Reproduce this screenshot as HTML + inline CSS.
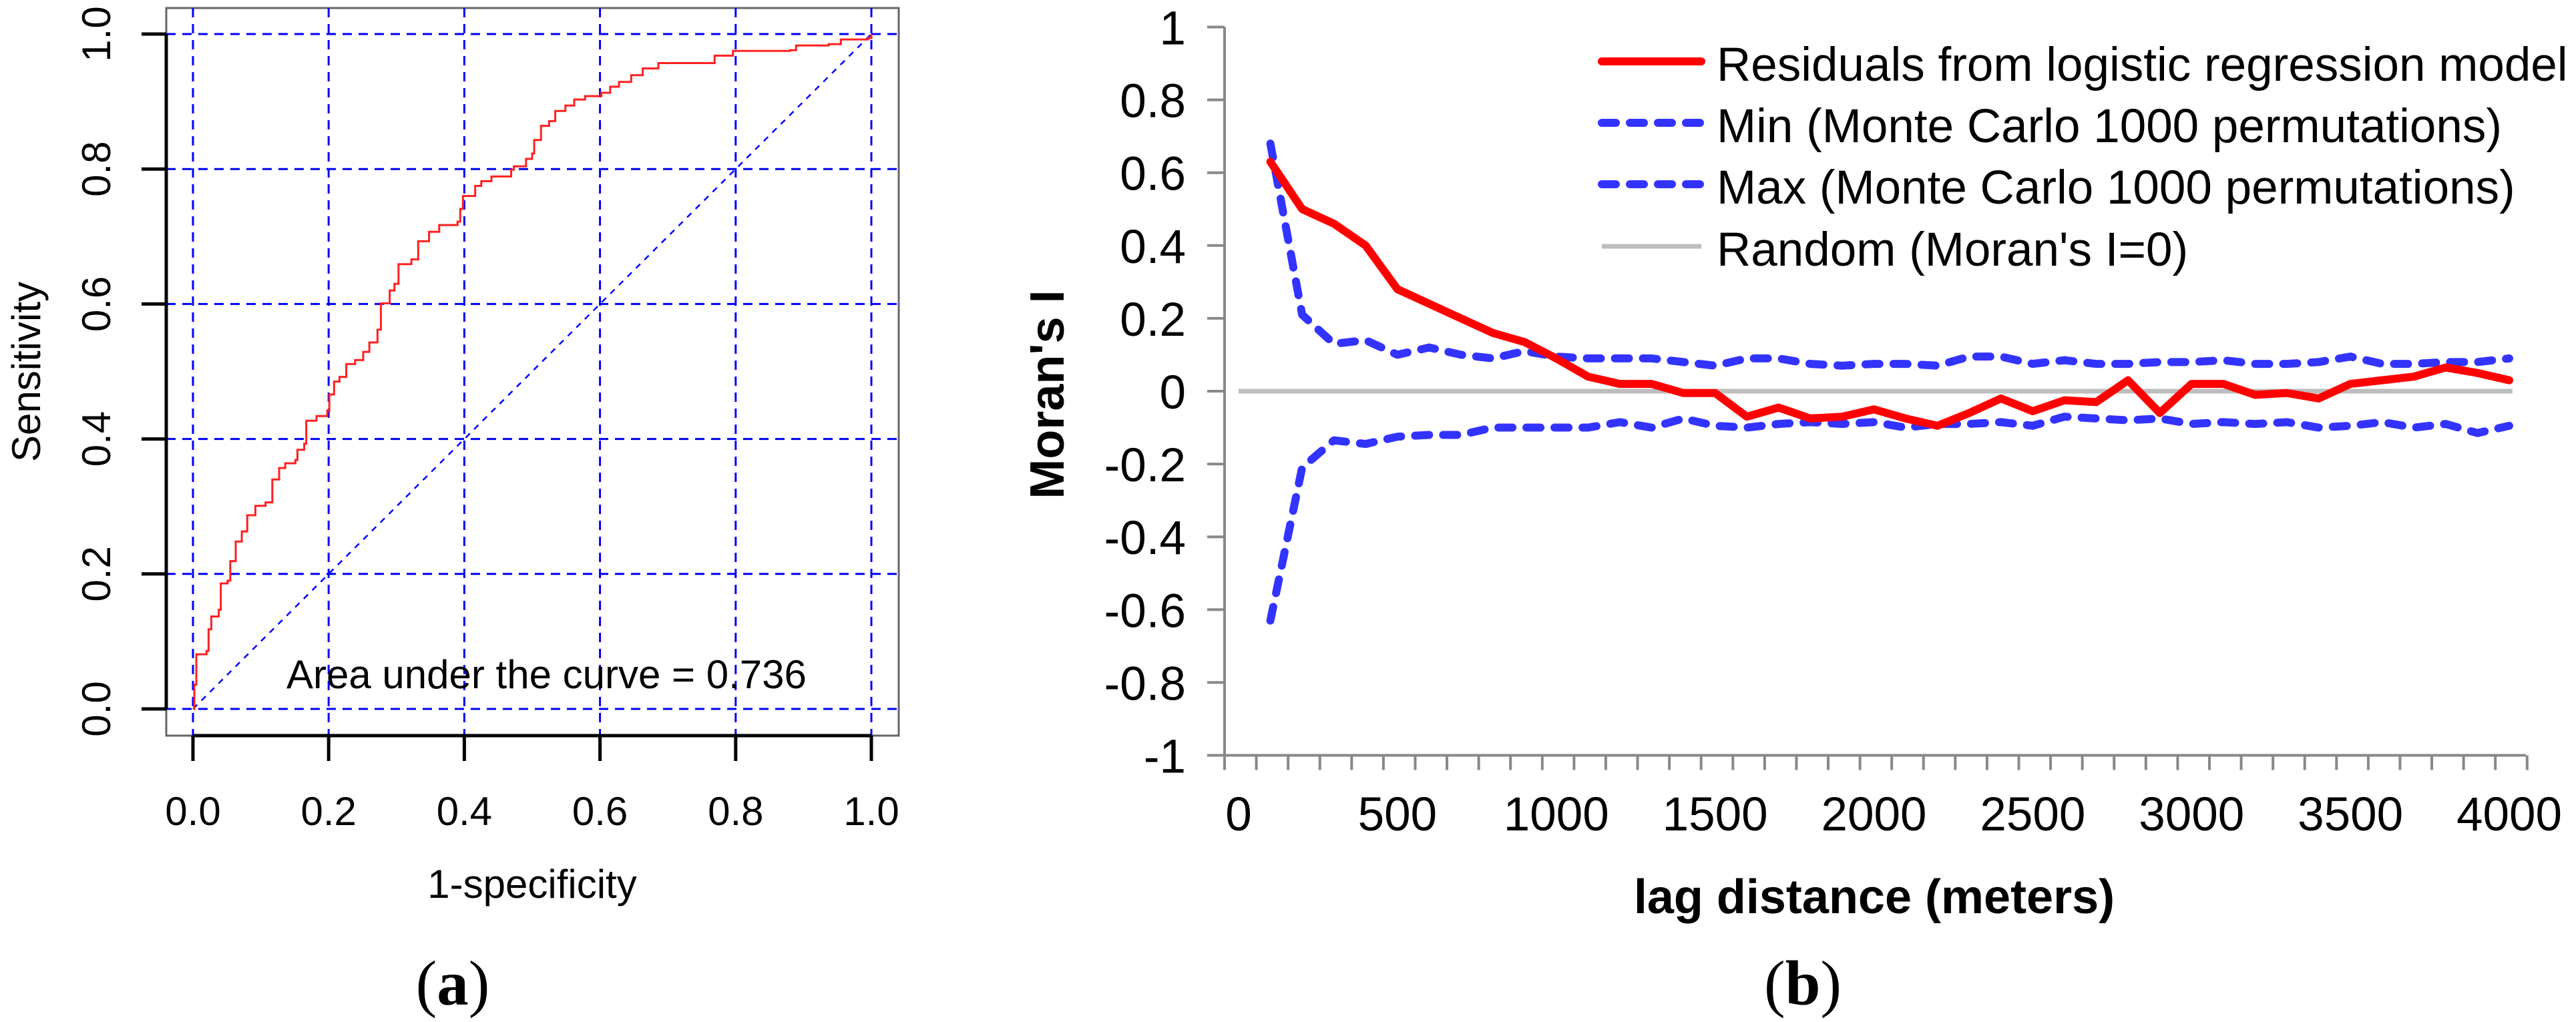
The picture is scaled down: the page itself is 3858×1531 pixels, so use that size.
<!DOCTYPE html>
<html><head><meta charset="utf-8"><style>
html,body{margin:0;padding:0;background:#fff;}
svg{display:block;}
text{font-family:"Liberation Sans",sans-serif;fill:#000;}
</style></head><body>
<svg id="fig" width="3858" height="1531" viewBox="0 0 3858 1531" xmlns="http://www.w3.org/2000/svg">
<g id="left"></g>
<g id="right"></g>
<text x="678" y="1505" text-anchor="middle" style="font-family:'Liberation Serif',serif;font-size:95px;">(<tspan font-weight="bold">a</tspan>)</text>
<text x="2700" y="1505" text-anchor="middle" style="font-family:'Liberation Serif',serif;font-size:95px;">(<tspan font-weight="bold">b</tspan>)</text>
</svg>
<script>
// ROC data
const rocFpr=[0,.002,.005,.020,.023,.027,.038,.041,.051,.055,.063,.072,.080,.092,.107,.117,.127,.136,.151,.154,.164,.167,.182,.198,.201,.208,.216,.226,.239,.251,.260,.272,.277,.290,.297,.303,.322,.332,.348,.363,.390,.394,.398,.416,.425,.440,.469,.473,.491,.500,.503,.513,.525,.534,.549,.562,.578,.602,.615,.628,.646,.663,.686,.752,.769,.796,.880,.889,.937,.955,.995,1];
const rocTpr=[0,.036,.081,.086,.118,.137,.147,.186,.190,.219,.248,.263,.287,.301,.306,.340,.357,.364,.369,.384,.393,.427,.434,.442,.466,.485,.492,.511,.517,.529,.543,.562,.601,.620,.630,.659,.666,.693,.707,.717,.722,.741,.760,.775,.782,.789,.799,.804,.815,.823,.843,.864,.871,.886,.894,.903,.908,.913,.922,.929,.939,.949,.957,.957,.968,.975,.976,.983,.985,.992,.994,1];
const rocTicks=[0,0.2,0.4,0.6,0.8,1.0];
const rocTickLabels=["0.0","0.2","0.4","0.6","0.8","1.0"];
// Moran's I data
const lags=[100,200,300,400,500,600,700,800,900,1000,1100,1200,1300,1400,1500,1600,1700,1800,1900,2000,2100,2200,2300,2400,2500,2600,2700,2800,2900,3000,3100,3200,3300,3400,3500,3600,3700,3800,3900,4000];
const residuals=[.63,.50,.46,.40,.28,.24,.20,.16,.135,.09,.04,.02,.02,-.005,-.005,-.07,-.045,-.075,-.07,-.05,-.075,-.095,-.06,-.02,-.055,-.025,-.03,.03,-.06,.02,.02,-.01,-.005,-.02,.02,.03,.04,.065,.05,.03];
const maxMC=[.68,.21,.13,.14,.10,.12,.10,.09,.11,.095,.09,.09,.09,.08,.07,.09,.09,.075,.07,.075,.075,.07,.095,.095,.075,.085,.075,.075,.08,.08,.085,.075,.075,.08,.095,.075,.075,.08,.08,.09];
const minMC=[-.63,-.21,-.135,-.145,-.125,-.12,-.12,-.10,-.10,-.10,-.10,-.085,-.10,-.075,-.095,-.10,-.09,-.085,-.09,-.085,-.10,-.09,-.09,-.085,-.095,-.07,-.075,-.08,-.075,-.09,-.085,-.09,-.085,-.10,-.095,-.085,-.10,-.09,-.115,-.095];
const yTicksR=[1,0.8,0.6,0.4,0.2,0,-0.2,-0.4,-0.6,-0.8,-1];
const yTickLabelsR=["1","0.8","0.6","0.4","0.2","0","-0.2","-0.4","-0.6","-0.8","-1"];
const xTicksR=[0,500,1000,1500,2000,2500,3000,3500,4000];

const NS="http://www.w3.org/2000/svg";
function mk(parent,tag,attrs,txt){const e=document.createElementNS(NS,tag);for(const k in attrs)e.setAttribute(k,attrs[k]);if(txt!==undefined)e.textContent=txt;parent.appendChild(e);return e;}

// ---------- Left ROC ----------
const L=document.getElementById('left');
const lx=v=>289+v*(1305-289);
const ly=v=>1062-v*(1062-51);
let e;
e=mk(L,'rect',{x:249,y:12,width:1097,height:1090,fill:'none',stroke:'#666','stroke-width':3});

rocTicks.forEach((t,i)=>{
  e=mk(L,'line',{x1:lx(t),x2:lx(t),y1:12,y2:1102,stroke:'#0000ff','stroke-width':3,'stroke-dasharray':'14 10'});
  
  e=mk(L,'line',{x1:249,x2:1346,y1:ly(t),y2:ly(t),stroke:'#0000ff','stroke-width':3,'stroke-dasharray':'14 10'});
  
  e=mk(L,'line',{x1:lx(t),x2:lx(t),y1:1102,y2:1140,stroke:'#000','stroke-width':5});
  
  e=mk(L,'line',{x1:212,x2:249,y1:ly(t),y2:ly(t),stroke:'#000','stroke-width':5});
  
  e=mk(L,'text',{x:lx(t),y:1236,'text-anchor':'middle','font-size':60},rocTickLabels[i]);
  
  e=mk(L,'text',{x:0,y:0,'text-anchor':'middle','font-size':60,transform:`translate(165,${ly(t)}) rotate(-90)`},rocTickLabels[i]);
  
});
e=mk(L,'line',{x1:249,x2:249,y1:ly(0),y2:ly(1),stroke:'#000','stroke-width':5});

e=mk(L,'line',{x1:lx(0),x2:lx(1),y1:1102,y2:1102,stroke:'#000','stroke-width':5});

e=mk(L,'line',{x1:lx(0),y1:ly(0),x2:lx(1),y2:ly(1),stroke:'#0000ff','stroke-width':2.5,'stroke-dasharray':'9 9'});

let pts=[];
rocFpr.forEach((f,i)=>{ if(i>0) pts.push(lx(f)+','+ly(rocTpr[i-1])); pts.push(lx(f)+','+ly(rocTpr[i])); });
e=mk(L,'polyline',{points:pts.join(' '),fill:'none',stroke:'#ff2020','stroke-width':3});

e=mk(L,'text',{x:429,y:1031,'font-size':60},'Area under the curve = 0.736');

e=mk(L,'text',{x:797,y:1345,'text-anchor':'middle','font-size':60},'1-specificity');

e=mk(L,'text',{x:0,y:0,'text-anchor':'middle','font-size':60,transform:'translate(60,557) rotate(-90)'},'Sensitivity');


// ---------- Right Moran's I ----------
const R=document.getElementById('right');
const rx=v=>1855+v*(3758-1855)/4000;
const ry=v=>586-v*545.5;
e=mk(R,'line',{x1:1834,x2:1834,y1:ry(1),y2:ry(-1),stroke:'#888','stroke-width':4});

e=mk(R,'line',{x1:1808,x2:3783,y1:ry(-1),y2:ry(-1),stroke:'#888','stroke-width':4});

yTicksR.forEach((t,i)=>{
  e=mk(R,'line',{x1:1808,x2:1834,y1:ry(t),y2:ry(t),stroke:'#888','stroke-width':4});
  
  e=mk(R,'text',{x:1776,y:ry(t)+26,'text-anchor':'end','font-size':71},yTickLabelsR[i]);
  
});
for(let k=0;k<=41;k++){
  const xx=1834+k*47.58;
  e=mk(R,'line',{x1:xx,x2:xx,y1:ry(-1),y2:ry(-1)+22,stroke:'#888','stroke-width':4});
  
}
xTicksR.forEach(t=>{
  e=mk(R,'text',{x:rx(t),y:1244,'text-anchor':'middle','font-size':71},String(t));
  
});
e=mk(R,'line',{x1:rx(0),x2:rx(4010),y1:ry(0),y2:ry(0),stroke:'#bdbdbd','stroke-width':7});

function series(vals,color,dash,w,name){
  const p=lags.map((l,i)=>rx(l)+','+ry(vals[i])).join(' ');
  const a={points:p,fill:'none',stroke:color,'stroke-width':w,'stroke-linejoin':'round','stroke-linecap':'round'};
  if(dash)a['stroke-dasharray']=dash;
  const s=mk(R,'polyline',a);
  
  
}
series(maxMC,'#3333ff','21 21',12,'max-series');
series(minMC,'#3333ff','21 21',12,'min-series');
series(residuals,'#ff0000',null,12,'residuals-series');
const legY=[92,184,276,369];
const legTxt=["Residuals from logistic regression model","Min (Monte Carlo 1000 permutations)","Max (Monte Carlo 1000 permutations)","Random (Moran's I=0)"];
const legCol=['#ff0000','#3333ff','#3333ff','#bdbdbd'];
const legDash=[null,'21 21','21 21',null];
const legW=[12,12,12,7];
legY.forEach((y,i)=>{
  const a={x1:2399,x2:2548,y1:y,y2:y,stroke:legCol[i],'stroke-width':legW[i],'stroke-linecap':i==3?'butt':'round'};
  if(legDash[i])a['stroke-dasharray']=legDash[i];
  e=mk(R,'line',a);
  
  e=mk(R,'text',{x:2571,y:y+29,'font-size':71},legTxt[i]);
  
});
e=mk(R,'text',{x:2807,y:1368,'text-anchor':'middle','font-size':72,'font-weight':'bold'},'lag distance (meters)');

e=mk(R,'text',{x:0,y:0,'text-anchor':'middle','font-size':72,'font-weight':'bold',transform:'translate(1593,591) rotate(-90)'},"Moran's I");

</script>
</body></html>
